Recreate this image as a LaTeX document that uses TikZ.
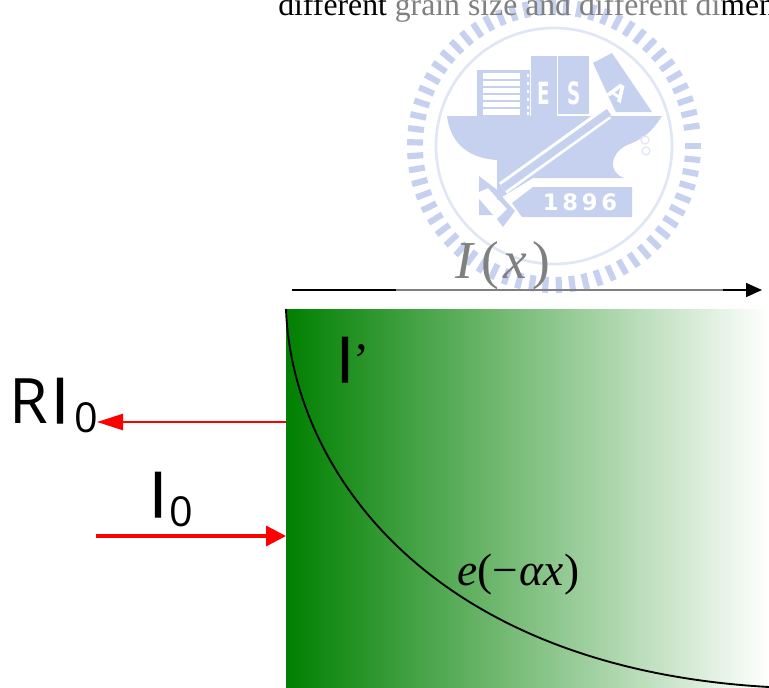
\documentclass[tikz,border=0pt]{standalone}
\usepackage{fontspec}
\setmainfont{Liberation Serif}
\newfontfamily\labelfont{Open Sans}
\newfontfamily\stemfont[FakeBold=1.8]{Open Sans}
\newfontfamily\sealfont{DejaVu Sans}
\usetikzlibrary{arrows.meta}
\definecolor{slabgreen}{HTML}{008000}
\definecolor{sealblue}{HTML}{8BA3DD}
\definecolor{ringblue}{HTML}{C2CEEC}
\newcommand{\bigsans}[1]{\fontsize{47}{47}\selectfont #1}
\newcommand{\zerosub}{\raisebox{-7pt}{\labelfont\fontsize{31}{31}\selectfont 0}}

\begin{document}
\begin{tikzpicture}[x=.75pt,y=-.75pt,
  slab/.style={inner sep=0,outer sep=0,minimum width=362.25pt,minimum height=283.5pt,left color=slabgreen,right color=white},
  incident/.style={-{Triangle[length=15pt,width=15pt]},red,line width=2.6pt},
  reflected/.style={-{Triangle[length=19.5pt,width=12pt]},red,line width=1.9pt},
  axisline/.style={-{Triangle[length=12pt,width=10.5pt]},black,line width=1.2pt},
  serifmath/.style={inner sep=0,anchor=base west,font=\fontsize{40}{40}\selectfont},
  sanslabel/.style={inner sep=0,anchor=base west},
  sealmark/.style={fill=sealblue,draw=none},
  sealtext/.style={inner sep=0,white,font=\sealfont\bfseries}]
  \path[use as bounding box,clip] (0,0) rectangle (769,687);

  % seal behind the page text
  \begin{scope}[shift={(554,146)}]
    \foreach \a in {0,5.5,...,355}
      \draw[sealblue,line width=4.6pt] (\a:131) -- (\a:147);
    \draw[ringblue,line width=2pt] (0,0) circle [radius=88.5pt];
  \end{scope}
  \fill[sealmark] (477,70) rectangle (530,116);
  \fill[sealmark] (531,56) rectangle (557,116);
  \fill[sealmark] (558,56) rectangle (589,114);
  \fill[sealmark] (593,63) -- (612,53) -- (652,112) -- (616,112) -- (612,104) -- cycle;
  \fill[white] (483,73) rectangle (520,115);
  \foreach \y in {80,87,94,101,108}
    \draw[sealblue,line width=.8pt] (483,\y) -- (520,\y);
  \foreach \y in {74,82,90,98,106,112}
    \fill[white] (527,\y) rectangle (529,\y+3);
  \fill[sealmark] (447,116) -- (662,116) .. controls (650,135) and (640,140) .. (625,146)
    .. controls (610,155) and (608,172) .. (624,178) -- (533,178) -- (497,200) -- (497,160)
    .. controls (465,158) and (450,140) .. cycle;
  \draw[white,line width=10pt,line join=miter] (503,188) -- (607,113);
  \draw[sealblue,line width=5.6pt] (503,188) -- (609,112);
  \fill[sealmark] (479,176) -- (496,189) -- (505,200) -- (515,211) -- (503,227) -- (497,219) -- (507,209) -- (497,198) -- (488,188) -- (479,192) -- cycle;
  \fill[sealmark] (479,199) -- (493,215) -- (479,215) -- cycle;
  \fill[sealmark] (533,187) -- (632,187) -- (632,217) -- (522,217) -- (512,203) -- cycle;
  \draw[ringblue,line width=1pt] (645,140) circle [radius=3pt];
  \draw[ringblue,line width=1pt] (646,151) circle [radius=3pt];
  \node[sealtext,font=\sealfont\bfseries\fontsize{17}{17}\selectfont] (badgeyear) at (580,202) {1\,8\,9\,6};
  \node[sealtext,font=\sealfont\bfseries\fontsize{23}{23}\selectfont,xscale=.6] (badgee) at (544,93) {E};
  \node[sealtext,font=\sealfont\bfseries\fontsize{23}{23}\selectfont,xscale=.6] (badges) at (574,93) {S};
  \node[sealtext,font=\sealfont\bfseries\fontsize{17}{17}\selectfont,rotate=-33] (badgea) at (618,92) {A};

  % page text and axis, both washed by the seal's veil
  \node[inner sep=0,anchor=base west,font=\fontsize{23.8}{23.8}\selectfont] (pagetext) at (278,15) {different grain size and different dimen};
  \coordinate (axisstart) at (292,290);
  \coordinate (axisend) at (762,290);
  \draw[axisline] (axisstart) -- (axisend);
  \node[serifmath] (ix) at (455,278) {\textit{I}\kern5pt(\kern3pt\textit{x}\kern4pt)};
  \fill[white,opacity=.5] (396,0) rectangle (723,297);

  % slab
  \node[slab] (slab) at (527.5,498) {};
  \draw[black,line width=1.4pt] (slab.north west) .. controls (292,470) and (430,668) .. (slab.south east);
  \node[sanslabel] (iprime) at (336,382) {\bigsans{\stemfont I}};
  \node[inner sep=0,anchor=base west,font=\fontsize{36}{36}\selectfont] (prime) at (353,376) {’};
  \node[serifmath,font=\fontsize{34}{34}\selectfont] (decay) at (457,585) {\textit{e}(−\kern1pt\textit{αx}\kern1pt)};

  % beams
  \coordinate (reflstart) at (286,422);
  \coordinate (reflend) at (97,422);
  \coordinate (incstart) at (96,536);
  \coordinate (incend) at (286,536);
  \draw[reflected] (reflstart) -- (reflend);
  \draw[incident] (incstart) -- (incend);
  \node[sanslabel] (ri) at (9,423) {\labelfont\bigsans{R\kern2.5pt\stemfont I}\kern4pt\zerosub};
  \node[sanslabel] (inc) at (149,517) {\labelfont\bigsans{\stemfont I}\kern2pt\zerosub};
\end{tikzpicture}
\end{document}
